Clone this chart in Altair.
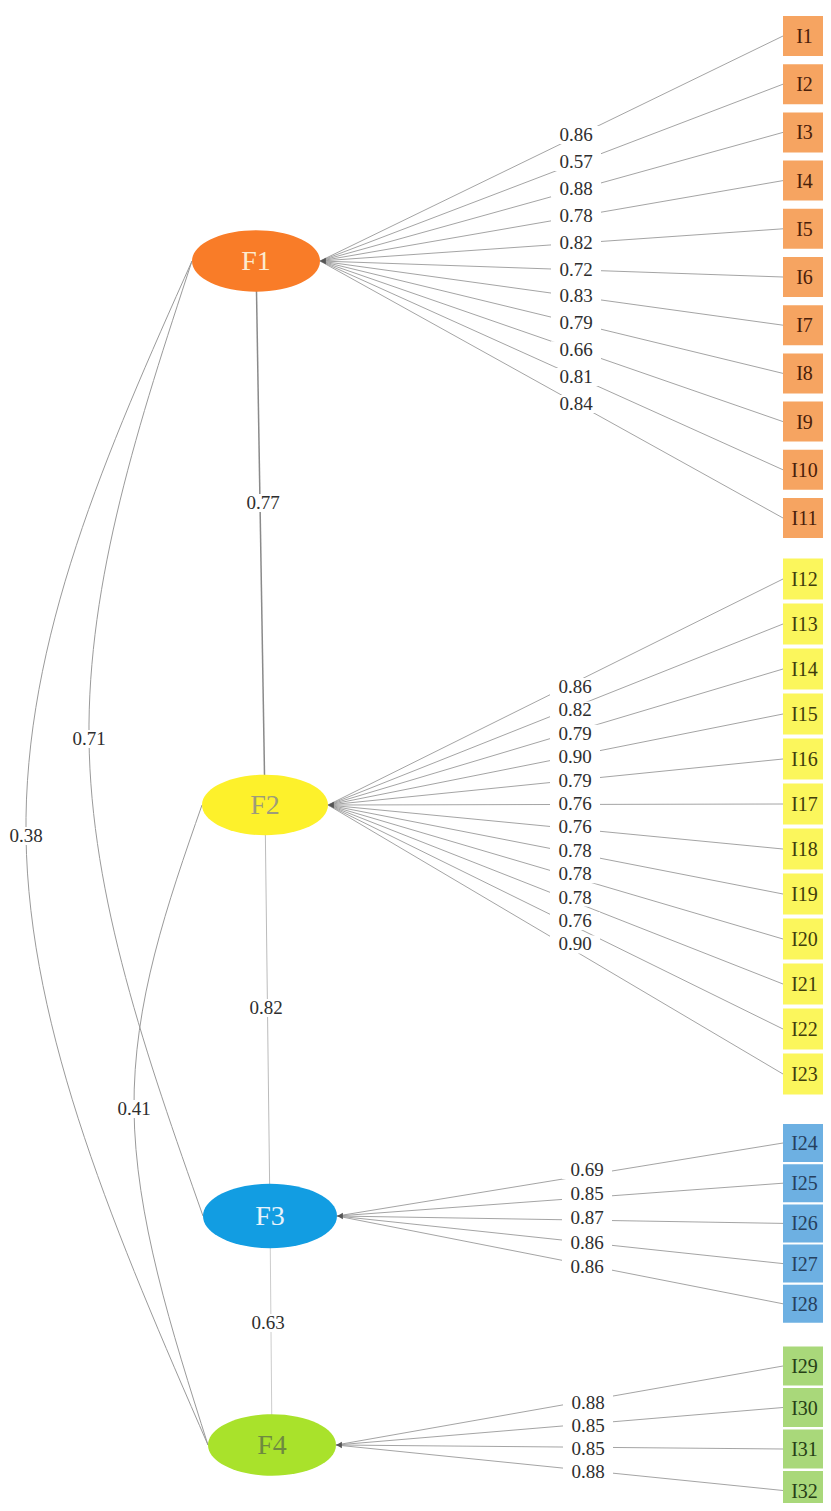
import altair as alt
import pandas as pd

# ---------------- data ----------------
factors = ["F1", "F2", "F3", "F4"]
item_counts = [11, 12, 5, 4]
items = ["I1", "I2", "I3", "I4", "I5", "I6", "I7", "I8", "I9", "I10", "I11",
         "I12", "I13", "I14", "I15", "I16", "I17", "I18", "I19", "I20", "I21", "I22", "I23",
         "I24", "I25", "I26", "I27", "I28",
         "I29", "I30", "I31", "I32"]
loadings_F1 = [0.86, 0.57, 0.88, 0.78, 0.82, 0.72, 0.83, 0.79, 0.66, 0.81, 0.84]
loadings_F2 = [0.86, 0.82, 0.79, 0.90, 0.79, 0.76, 0.76, 0.78, 0.78, 0.78, 0.76, 0.90]
loadings_F3 = [0.69, 0.85, 0.87, 0.86, 0.86]
loadings_F4 = [0.88, 0.85, 0.85, 0.88]
loadings = [loadings_F1, loadings_F2, loadings_F3, loadings_F4]

corr_from = ["F1", "F2", "F3", "F1", "F1", "F2"]
corr_to = ["F2", "F3", "F4", "F3", "F4", "F4"]
corr_values = [0.77, 0.82, 0.63, 0.71, 0.38, 0.41]

# ---------------- styles ----------------
factor_fill = ["#F97C28", "#FDF12B", "#129DE2", "#A9E22B"]
factor_text_color = ["#FCEBD0", "#9E9C7A", "#E8F3FB", "#6E8A40"]
item_fill = ["#F6A461", "#FBF65C", "#6DB0E2", "#A9D87A"]
item_text_color = ["#4A200A", "#3F3C0C", "#26405E", "#263F16"]
corr_color = ["#8a8a8a", "#bbbbbb", "#cccccc", "#9a9a9a", "#9a9a9a", "#9a9a9a"]
corr_width = [1.5, 1.0, 1.0, 1.0, 1.0, 1.0]
FONT = "Liberation Serif"

# ---------------- layout (page pixels) ----------------
factor_cx = [256, 265, 270, 272]
factor_cy = [261, 805, 1216, 1445]
factor_rx = [64, 63, 67, 64]
ELL_RATIO = 0.48
item_x0, item_x1 = 783, 826
item_y0 = [36, 579, 1143, 1366]
item_step = [48.2, 45, 40.2, 41.5]
item_h = [40, 41, 38, 39]
label_x = [576, 575, 587, 588]
label_y0 = [135, 687, 1170, 1403]
label_step = [26.9, 23.4, 24.2, 23.0]
corr_label_x = [263, 266, 268, 89, 26, 134]
corr_label_y = [503, 1008, 1323, 739, 836, 1109]
curved = [False, False, False, True, True, True]
BOX_W, BOX_H = 25, 9

# ---------------- build tables ----------------
item_rows, edge_rows, lab_rows = [], [], []
k = 0
for g, f in enumerate(factors):
    for j in range(item_counts[g]):
        yc = item_y0[g] + item_step[g] * j
        item_rows.append(dict(name=items[k], x=item_x0, x2=item_x1,
                              y=yc - item_h[g] / 2, y2=yc + item_h[g] / 2,
                              xc=(item_x0 + item_x1) / 2, yc=yc,
                              fill=item_fill[g], tcol=item_text_color[g]))
        edge_rows.append(dict(x=factor_cx[g] + factor_rx[g], y=factor_cy[g],
                              x2=item_x0, y2=yc, col="#9a9a9a", w=0.9))
        ly = label_y0[g] + label_step[g] * j
        lab_rows.append(dict(x=label_x[g], y=ly, text=f"{loadings[g][j]:.2f}"))
        k += 1

fidx = {f: i for i, f in enumerate(factors)}
curve_rows = []
for c in range(len(corr_values)):
    a, b = fidx[corr_from[c]], fidx[corr_to[c]]
    if curved[c]:
        pts = [(factor_cx[a] - factor_rx[a], factor_cy[a]),
               (corr_label_x[c], corr_label_y[c]),
               (factor_cx[b] - factor_rx[b], factor_cy[b])]
        for s, (px, py) in enumerate(pts):
            curve_rows.append(dict(edge=c, seq=s, x=px, y=py))
    else:
        edge_rows.append(dict(x=factor_cx[a], y=factor_cy[a], x2=factor_cx[b], y2=factor_cy[b],
                              col=corr_color[c], w=corr_width[c]))
    lab_rows.append(dict(x=corr_label_x[c], y=corr_label_y[c], text=f"{corr_values[c]:.2f}"))

for r in lab_rows:
    r["bx"], r["bx2"] = r["x"] - BOX_W, r["x"] + BOX_W
    r["by"], r["by2"] = r["y"] - BOX_H, r["y"] + BOX_H

factor_rows = []
for g, f in enumerate(factors):
    factor_rows.append(dict(name=f, x=factor_cx[g], y=factor_cy[g],
                            size=(2 * factor_rx[g]) ** 2, fill=factor_fill[g],
                            tcol=factor_text_color[g],
                            ax=factor_cx[g] + factor_rx[g] + 3))

items_df = pd.DataFrame(item_rows)
edges_df = pd.DataFrame(edge_rows)
labs_df = pd.DataFrame(lab_rows)
curves_df = pd.DataFrame(curve_rows)
factors_df = pd.DataFrame(factor_rows)

X = alt.Scale(domain=[8, 823], nice=False, zero=False)
Y = alt.Scale(domain=[8, 1503], nice=False, zero=False, reverse=True)
NOAX = None

def xq(f):
    return alt.X(f, type="quantitative", scale=X, axis=NOAX)

def yq(f):
    return alt.Y(f, type="quantitative", scale=Y, axis=NOAX)

k_ = 0.5523
r_ = ELL_RATIO
ellipse_path = (f"M -1 0 C -1 {-k_*r_:.4f} {-k_:.4f} {-r_} 0 {-r_} "
                f"C {k_:.4f} {-r_} 1 {-k_*r_:.4f} 1 0 "
                f"C 1 {k_*r_:.4f} {k_:.4f} {r_} 0 {r_} "
                f"C {-k_:.4f} {r_} -1 {k_*r_:.4f} -1 0 Z")

rules = alt.Chart(edges_df).mark_rule().encode(
    x=xq("x"), y=yq("y"), x2="x2:Q", y2="y2:Q",
    color=alt.Color("col:N", scale=None),
    strokeWidth=alt.StrokeWidth("w:Q", scale=None),
)

curves = alt.Chart(curves_df).mark_line(interpolate="natural", color="#9a9a9a", strokeWidth=1).encode(
    x=xq("x"), y=yq("y"), detail="edge:N", order="seq:Q",
)

boxes = alt.Chart(labs_df).mark_rect(color="white").encode(
    x=xq("bx"), x2="bx2:Q", y=yq("by"), y2="by2:Q",
)

labels = alt.Chart(labs_df).mark_text(font=FONT, fontSize=19, color="#2e2e2e",
                                      baseline="middle", align="center").encode(
    x=xq("x"), y=yq("y"), text="text:N",
)

arrows = alt.Chart(factors_df).mark_point(shape="triangle-left", filled=True, size=45,
                                          color="#555555", opacity=1).encode(
    x=xq("ax"), y=yq("y"),
)

ellipses = alt.Chart(factors_df).mark_point(shape=ellipse_path, filled=True, opacity=1,
                                            strokeWidth=0).encode(
    x=xq("x"), y=yq("y"),
    size=alt.Size("size:Q", scale=None),
    color=alt.Color("fill:N", scale=None),
)

factor_text = alt.Chart(factors_df).mark_text(font=FONT, fontSize=28, baseline="middle",
                                              align="center", dy=1).encode(
    x=xq("x"), y=yq("y"), text="name:N",
    color=alt.Color("tcol:N", scale=None),
)

item_rects = alt.Chart(items_df).mark_rect().encode(
    x=xq("x"), x2="x2:Q", y=yq("y"), y2="y2:Q",
    color=alt.Color("fill:N", scale=None),
)

item_text = alt.Chart(items_df).mark_text(font=FONT, fontSize=20, baseline="middle",
                                          align="center", dy=1).encode(
    x=xq("xc"), y=yq("yc"), text="name:N",
    color=alt.Color("tcol:N", scale=None),
)

chart = alt.layer(
    rules, curves, boxes, labels, arrows, ellipses, factor_text, item_rects, item_text
).properties(
    width=815, height=1495, padding=0, autosize=alt.AutoSizeParams(type="none"),
    background="white",
).configure_view(stroke=None)

chart.save("out.html", embed_options={"renderer": "svg", "actions": False})
